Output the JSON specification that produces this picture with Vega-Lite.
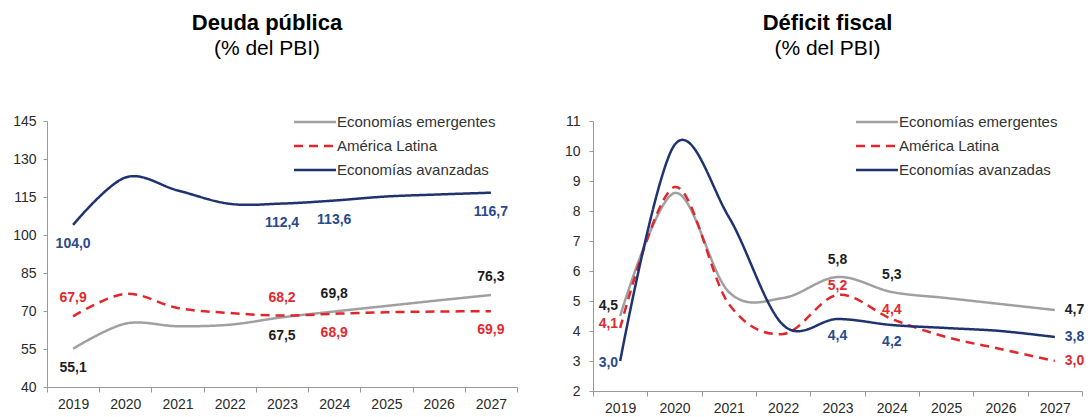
{
  "$schema": "https://vega.github.io/schema/vega-lite/v6.json",
  "background": "white",
  "padding": {"left": 7, "top": 12, "right": 0, "bottom": 0},
  "spacing": 35,
  "config": {
    "view": {"stroke": null},
    "font": "Liberation Sans",
    "locale": {"number": {"decimal": ",", "thousands": ".", "grouping": [3], "currency": ["$", ""]}},
    "axis": {
      "grid": false,
      "title": null,
      "domainColor": "#9a9a9a",
      "tickColor": "#9a9a9a",
      "labelColor": "#2b2b2b",
      "labelFont": "Liberation Sans",
      "labelFontSize": 14
    },
    "axisX": {"tickSize": 5, "labelPadding": 5, "labelAngle": 0, "tickBand": "extent"},
    "axisY": {"tickSize": 4, "labelPadding": 7, "minExtent": 40, "maxExtent": 40},
    "title": {
      "font": "Liberation Sans",
      "fontSize": 22,
      "fontWeight": "bold",
      "color": "#000000",
      "subtitleFont": "Liberation Sans",
      "subtitleFontSize": 21,
      "subtitleColor": "#000000",
      "subtitlePadding": 0,
      "anchor": "middle",
      "offset": 50
    },
    "legend": {
      "title": null,
      "orient": "none",
      "symbolType": "M-2,0H2",
      "symbolSize": 441,
      "symbolStrokeWidth": 2.5,
      "labelFont": "Liberation Sans",
      "labelFontSize": 15,
      "labelColor": "#333333",
      "labelOffset": 10,
      "rowPadding": 4
    }
  },
  "resolve": {
    "scale": {"color": "independent", "strokeDash": "independent"},
    "legend": {"color": "independent", "strokeDash": "independent"}
  },
  "hconcat": [
    {
      "width": 470,
      "height": 266,
      "title": {"text": "Deuda pública", "subtitle": "(% del PBI)", "dx": -15},
      "data": {
        "values": [
          {"anio": "2019", "serie": "Economías emergentes", "valor": 55.1},
          {"anio": "2020", "serie": "Economías emergentes", "valor": 65.0},
          {"anio": "2021", "serie": "Economías emergentes", "valor": 64.0},
          {"anio": "2022", "serie": "Economías emergentes", "valor": 64.6},
          {"anio": "2023", "serie": "Economías emergentes", "valor": 67.5},
          {"anio": "2024", "serie": "Economías emergentes", "valor": 69.8},
          {"anio": "2025", "serie": "Economías emergentes", "valor": 72.0},
          {"anio": "2026", "serie": "Economías emergentes", "valor": 74.2},
          {"anio": "2027", "serie": "Economías emergentes", "valor": 76.3},
          {"anio": "2019", "serie": "América Latina", "valor": 67.9},
          {"anio": "2020", "serie": "América Latina", "valor": 76.8},
          {"anio": "2021", "serie": "América Latina", "valor": 71.2},
          {"anio": "2022", "serie": "América Latina", "valor": 69.2},
          {"anio": "2023", "serie": "América Latina", "valor": 68.2},
          {"anio": "2024", "serie": "América Latina", "valor": 68.9},
          {"anio": "2025", "serie": "América Latina", "valor": 69.5},
          {"anio": "2026", "serie": "América Latina", "valor": 69.8},
          {"anio": "2027", "serie": "América Latina", "valor": 69.9},
          {"anio": "2019", "serie": "Economías avanzadas", "valor": 104.0},
          {"anio": "2020", "serie": "Economías avanzadas", "valor": 122.7},
          {"anio": "2021", "serie": "Economías avanzadas", "valor": 117.6},
          {"anio": "2022", "serie": "Economías avanzadas", "valor": 112.3},
          {"anio": "2023", "serie": "Economías avanzadas", "valor": 112.4},
          {"anio": "2024", "serie": "Economías avanzadas", "valor": 113.6},
          {"anio": "2025", "serie": "Economías avanzadas", "valor": 115.2},
          {"anio": "2026", "serie": "Economías avanzadas", "valor": 116.0},
          {"anio": "2027", "serie": "Economías avanzadas", "valor": 116.7}
        ]
      },
      "encoding": {
        "x": {
          "field": "anio",
          "type": "ordinal",
          "bandPosition": 0.5,
          "scale": {"type": "band", "paddingInner": 0, "paddingOuter": 0},
          "axis": {}
        },
        "y": {
          "field": "valor",
          "type": "quantitative",
          "scale": {"domain": [40, 145], "nice": false, "zero": false},
          "axis": {"values": [40, 55, 70, 85, 100, 115, 130, 145]}
        }
      },
      "layer": [
        {
          "mark": {"type": "line", "interpolate": "cardinal", "strokeWidth": 2.5},
          "encoding": {
            "color": {
              "field": "serie",
              "type": "nominal",
              "scale": {
                "domain": ["Economías emergentes", "América Latina", "Economías avanzadas"],
                "range": ["#a0a0a0", "#e3262b", "#1f3370"]
              },
              "legend": {"legendX": 256, "legendY": -11}
            },
            "strokeDash": {
              "field": "serie",
              "type": "nominal",
              "scale": {
                "domain": ["Economías emergentes", "América Latina", "Economías avanzadas"],
                "range": [[1, 0], [9, 6], [1, 0]]
              },
              "legend": {"legendX": 256, "legendY": -11}
            }
          }
        },
        {
          "transform": [
            {"filter": "(datum.serie === 'América Latina' && (datum.anio === '2019' || datum.anio === '2023')) || (datum.serie === 'Economías emergentes' && (datum.anio === '2024' || datum.anio === '2027'))"}
          ],
          "mark": {"type": "text", "fontSize": 14, "fontWeight": "bold", "dy": -18},
          "encoding": {
            "text": {"field": "valor", "type": "quantitative", "format": ".1f"},
            "color": {
              "condition": [
                {"test": "datum.serie === 'América Latina'", "value": "#df2a2f"},
                {"test": "datum.serie === 'Economías avanzadas'", "value": "#2a4a8c"}
              ],
              "value": "#1e1e1e"
            }
          }
        },
        {
          "transform": [
            {"filter": "datum.serie === 'Economías avanzadas' ? indexof(['2019','2023','2024','2027'], datum.anio) >= 0 : datum.serie === 'América Latina' ? indexof(['2024','2027'], datum.anio) >= 0 : indexof(['2019','2023'], datum.anio) >= 0"}
          ],
          "mark": {"type": "text", "fontSize": 14, "fontWeight": "bold", "dy": 19},
          "encoding": {
            "text": {"field": "valor", "type": "quantitative", "format": ".1f"},
            "color": {
              "condition": [
                {"test": "datum.serie === 'América Latina'", "value": "#df2a2f"},
                {"test": "datum.serie === 'Economías avanzadas'", "value": "#2a4a8c"}
              ],
              "value": "#1e1e1e"
            }
          }
        }
      ]
    },
    {
      "width": 489,
      "height": 270,
      "title": {"text": "Déficit fiscal", "subtitle": "(% del PBI)", "dx": -10},
      "data": {
        "values": [
          {"anio": "2019", "serie": "Economías emergentes", "valor": 4.5},
          {"anio": "2020", "serie": "Economías emergentes", "valor": 8.6},
          {"anio": "2021", "serie": "Economías emergentes", "valor": 5.3},
          {"anio": "2022", "serie": "Economías emergentes", "valor": 5.1},
          {"anio": "2023", "serie": "Economías emergentes", "valor": 5.8},
          {"anio": "2024", "serie": "Economías emergentes", "valor": 5.3},
          {"anio": "2025", "serie": "Economías emergentes", "valor": 5.1},
          {"anio": "2026", "serie": "Economías emergentes", "valor": 4.9},
          {"anio": "2027", "serie": "Economías emergentes", "valor": 4.7},
          {"anio": "2019", "serie": "América Latina", "valor": 4.1},
          {"anio": "2020", "serie": "América Latina", "valor": 8.8},
          {"anio": "2021", "serie": "América Latina", "valor": 4.9},
          {"anio": "2022", "serie": "América Latina", "valor": 3.9},
          {"anio": "2023", "serie": "América Latina", "valor": 5.2},
          {"anio": "2024", "serie": "América Latina", "valor": 4.4},
          {"anio": "2025", "serie": "América Latina", "valor": 3.8},
          {"anio": "2026", "serie": "América Latina", "valor": 3.4},
          {"anio": "2027", "serie": "América Latina", "valor": 3.0},
          {"anio": "2019", "serie": "Economías avanzadas", "valor": 3.0},
          {"anio": "2020", "serie": "Economías avanzadas", "valor": 10.2},
          {"anio": "2021", "serie": "Economías avanzadas", "valor": 7.8},
          {"anio": "2022", "serie": "Economías avanzadas", "valor": 4.2},
          {"anio": "2023", "serie": "Economías avanzadas", "valor": 4.4},
          {"anio": "2024", "serie": "Economías avanzadas", "valor": 4.2},
          {"anio": "2025", "serie": "Economías avanzadas", "valor": 4.1},
          {"anio": "2026", "serie": "Economías avanzadas", "valor": 4.0},
          {"anio": "2027", "serie": "Economías avanzadas", "valor": 3.8}
        ]
      },
      "encoding": {
        "x": {
          "field": "anio",
          "type": "ordinal",
          "bandPosition": 0.5,
          "scale": {"type": "band", "paddingInner": 0, "paddingOuter": 0},
          "axis": {}
        },
        "y": {
          "field": "valor",
          "type": "quantitative",
          "scale": {"domain": [2, 11], "nice": false, "zero": false},
          "axis": {"values": [2, 3, 4, 5, 6, 7, 8, 9, 10, 11], "labelPadding": 9}
        }
      },
      "layer": [
        {
          "mark": {"type": "line", "interpolate": "cardinal", "strokeWidth": 2.5},
          "encoding": {
            "color": {
              "field": "serie",
              "type": "nominal",
              "scale": {
                "domain": ["Economías emergentes", "América Latina", "Economías avanzadas"],
                "range": ["#a0a0a0", "#e3262b", "#1f3370"]
              },
              "legend": {"legendX": 272, "legendY": -11}
            },
            "strokeDash": {
              "field": "serie",
              "type": "nominal",
              "scale": {
                "domain": ["Economías emergentes", "América Latina", "Economías avanzadas"],
                "range": [[1, 0], [9, 6], [1, 0]]
              },
              "legend": {"legendX": 272, "legendY": -11}
            }
          }
        },
        {
          "transform": [
            {"filter": "datum.serie === 'Economías emergentes' && (datum.anio === '2023' || datum.anio === '2024')"}
          ],
          "mark": {"type": "text", "fontSize": 14, "fontWeight": "bold", "dy": -17},
          "encoding": {
            "text": {"field": "valor", "type": "quantitative", "format": ".1f"},
            "color": {"value": "#1e1e1e"}
          }
        },
        {
          "transform": [
            {"filter": "datum.serie === 'América Latina' && (datum.anio === '2023' || datum.anio === '2024')"}
          ],
          "mark": {"type": "text", "fontSize": 14, "fontWeight": "bold", "dy": -9},
          "encoding": {
            "text": {"field": "valor", "type": "quantitative", "format": ".1f"},
            "color": {"value": "#df2a2f"}
          }
        },
        {
          "transform": [
            {"filter": "datum.serie === 'Economías avanzadas' && (datum.anio === '2023' || datum.anio === '2024')"}
          ],
          "mark": {"type": "text", "fontSize": 14, "fontWeight": "bold", "dy": 17},
          "encoding": {
            "text": {"field": "valor", "type": "quantitative", "format": ".1f"},
            "color": {"value": "#2a4a8c"}
          }
        },
        {
          "transform": [
            {"filter": "datum.anio === '2019' && datum.serie === 'Economías emergentes'"}
          ],
          "mark": {"type": "text", "fontSize": 14, "fontWeight": "bold", "align": "right", "dx": -2, "dy": -10},
          "encoding": {
            "text": {"field": "valor", "type": "quantitative", "format": ".1f"},
            "color": {"value": "#1e1e1e"}
          }
        },
        {
          "transform": [
            {"filter": "datum.anio === '2019' && datum.serie === 'América Latina'"}
          ],
          "mark": {"type": "text", "fontSize": 14, "fontWeight": "bold", "align": "right", "dx": -2, "dy": -4},
          "encoding": {
            "text": {"field": "valor", "type": "quantitative", "format": ".1f"},
            "color": {"value": "#df2a2f"}
          }
        },
        {
          "transform": [
            {"filter": "datum.anio === '2019' && datum.serie === 'Economías avanzadas'"}
          ],
          "mark": {"type": "text", "fontSize": 14, "fontWeight": "bold", "align": "right", "dx": -2, "dy": 2},
          "encoding": {
            "text": {"field": "valor", "type": "quantitative", "format": ".1f"},
            "color": {"value": "#2a4a8c"}
          }
        },
        {
          "transform": [
            {"filter": "datum.anio === '2027'"}
          ],
          "mark": {"type": "text", "fontSize": 14, "fontWeight": "bold", "align": "left", "dx": 10},
          "encoding": {
            "text": {"field": "valor", "type": "quantitative", "format": ".1f"},
            "color": {
              "condition": [
                {"test": "datum.serie === 'América Latina'", "value": "#df2a2f"},
                {"test": "datum.serie === 'Economías avanzadas'", "value": "#2a4a8c"}
              ],
              "value": "#1e1e1e"
            }
          }
        }
      ]
    }
  ]
}
